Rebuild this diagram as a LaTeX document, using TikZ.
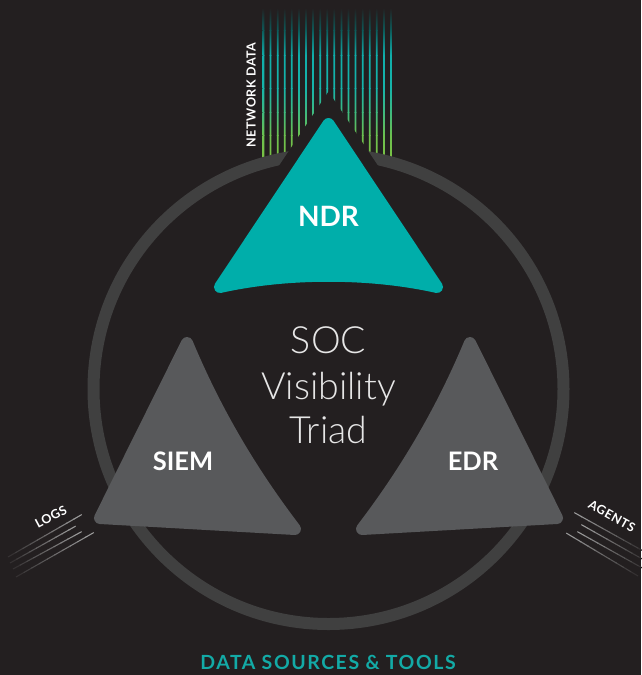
\documentclass[tikz,border=0pt]{standalone}
\usepackage{fontspec}
\setmainfont{Lato}
\newfontfamily\latolight{Lato Light}
\newfontfamily\latospaced{Lato}[LetterSpace=8]
\newfontfamily\latosmall{Lato}[LetterSpace=4]
\usetikzlibrary{calc}
\definecolor{bgc}{HTML}{231F20}
\definecolor{ringc}{HTML}{404040}
\definecolor{tealc}{HTML}{00AEAA}
\definecolor{greyc}{HTML}{58595B}
\definecolor{txtc}{HTML}{E6E6E6}
\definecolor{bottomc}{HTML}{13AAA6}
\definecolor{linec}{HTML}{9A9A9A}
\definecolor{g1}{HTML}{0D5A59}
\definecolor{g2}{HTML}{10AEAA}
\definecolor{g3}{HTML}{16B4AA}
\definecolor{g4}{HTML}{3FBA7F}
\definecolor{g5}{HTML}{6CC04F}
\definecolor{g6}{HTML}{7CC242}
\tikzset{
  tri/.style={line width=12, line join=round},
  lbl/.style={text=white, inner sep=0, font=\bfseries},
  side/.style={text=white, inner sep=0, font=\latosmall\bfseries\fontsize{12.5}{14}\selectfont},
  title/.style={text=txtc, inner sep=0, anchor=base, font=\latolight\fontsize{37.5}{44}\selectfont},
}
\begin{document}
\begin{tikzpicture}[x=1pt,y=-1pt]
\useasboundingbox (0,0) rectangle (641,675);
\fill[bgc] (0,0) rectangle (641,675);
% network data lines
\begin{scope}
\clip \foreach \k in {0,...,18} { (263.5+7.083*\k-0.9,8) rectangle (263.5+7.083*\k+0.9,162) };
\shade[top color=bgc, bottom color=g1] (250,8) rectangle (410,30.5);
\shade[top color=g1, bottom color=g2] (250,30) rectangle (410,55.5);
\shade[top color=g2, bottom color=g3] (250,55) rectangle (410,88.5);
\shade[top color=g3, bottom color=g4] (250,88) rectangle (410,112.5);
\shade[top color=g4, bottom color=g5] (250,112) rectangle (410,135.5);
\shade[top color=g5, bottom color=g6] (250,135) rectangle (410,162);
\end{scope}
% ring
\coordinate (c) at (328.5,389);
\draw[ringc, line width=12] (c) circle (235);
% gap around NDR
\fill[bgc] (328.5,91.5) -- (189.7,300) -- (467.3,300) -- cycle;
% triangles
\path[tri, fill=tealc, draw=tealc] (328.5,124) -- (437,287) .. controls (370,272) and (287,272) .. (220,287) -- cycle;
\path[tri, fill=greyc, draw=greyc] (187,343) -- (100,518) -- (295,529) .. controls (250,470) and (215,410) .. cycle;
\path[tri, fill=greyc, draw=greyc] (470,343) -- (557,518) -- (362,529) .. controls (407,470) and (442,410) .. cycle;
% labels
\node[lbl, font=\bfseries\fontsize{28}{32}\selectfont] (ndr) at (328.5,216) {NDR};
\node[lbl, font=\bfseries\fontsize{25.5}{28}\selectfont] (siem) at (183,461) {SIEM};
\node[lbl, font=\bfseries\fontsize{25.5}{28}\selectfont] (edr) at (473,461) {EDR};
\node[title] (soc) at (328.5,353) {SOC};
\node[title] (vis) at (328.5,399) {Visibility};
\node[title] (triad) at (328.5,443) {Triad};
\node[text=bottomc, inner sep=0, anchor=base, font=\latospaced\bfseries\fontsize{19.5}{22}\selectfont] (dst) at (328,669) {DATA SOURCES \& TOOLS};
\node[side, rotate=90] (net) at (251,95) {NETWORK DATA};
\node[side, rotate=28] (logs) at (51,517) {LOGS};
\node[side, rotate=-29] (agents) at (612,516) {AGENTS};
% side lines (faded end first, bright end second)
\coordinate (la1) at (8,557); \coordinate (lb1) at (81,515);
\coordinate (la2) at (10,563); \coordinate (lb2) at (75,526.5);
\coordinate (la3) at (13,569); \coordinate (lb3) at (81,532);
\coordinate (la4) at (16,577); \coordinate (lb4) at (93,533);
\coordinate (aa1) at (645,552); \coordinate (ab1) at (575,513);
\coordinate (aa2) at (645,560.5); \coordinate (ab2) at (582,525);
\coordinate (aa3) at (645,569.5); \coordinate (ab3) at (578,532);
\coordinate (aa4) at (638,576); \coordinate (ab4) at (567,533.5);
\foreach \p/\q in {la1/lb1,la2/lb2,la3/lb3,la4/lb4,aa1/ab1,aa2/ab2,aa3/ab3,aa4/ab4}{
  \foreach \i in {0,...,9}{
    \pgfmathsetmacro\ta{\i/10}
    \pgfmathsetmacro\tb{(\i+1)/10+0.01}
    \pgfmathsetmacro\pc{15+9.4*\i}
    \draw[line width=1.1, color=linec!\pc!bgc] ($(\p)!\ta!(\q)$) -- ($(\p)!\tb!(\q)$);
  }
}
\end{tikzpicture}
\end{document}
